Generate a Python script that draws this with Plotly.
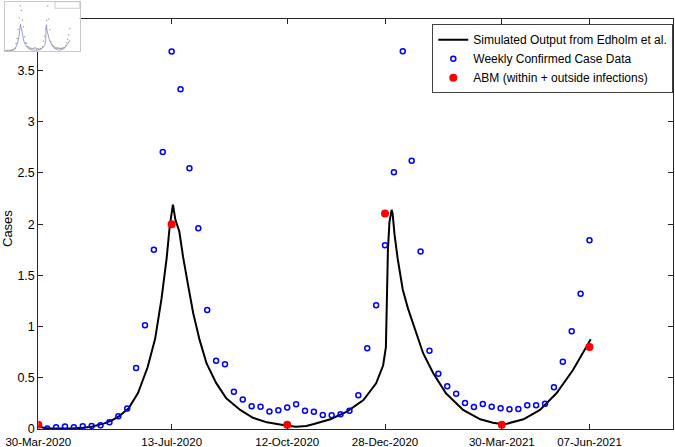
import pandas as pd
import plotly.graph_objects as go

START = pd.Timestamp("2020-03-30")

# Simulated output (black line): day offset from 30-Mar-2020, cases
sim_days = [0, 4, 8, 15, 26, 35, 42, 52, 58, 63, 71, 78.5, 86, 92, 97, 101, 103.5, 106,
            108, 111, 114, 118, 122, 127, 132.5, 140, 148, 159, 169, 180, 190, 196, 203,
            211, 217, 230, 243, 256, 266, 271.5, 273.7, 275.3, 276.5, 277.5, 278.2, 279,
            280.5, 283, 287, 291, 295, 303, 311, 321, 334.5, 348, 358, 365, 369, 382,
            395, 408, 421, 429, 435]
sim_vals = [0.03, 0.012, 0.005, 0.004, 0.006, 0.012, 0.022, 0.055, 0.085, 0.12, 0.2, 0.35,
            0.6, 0.88, 1.27, 1.66, 1.98, 2.19, 2.04, 1.93, 1.68, 1.40, 1.13, 0.87, 0.64,
            0.45, 0.30, 0.186, 0.11, 0.065, 0.042, 0.032, 0.023, 0.03, 0.049, 0.095, 0.17,
            0.283, 0.446, 0.62, 0.80, 1.75, 2.02, 2.12, 2.14, 2.10, 1.90, 1.66, 1.36, 1.18,
            1.03, 0.74, 0.544, 0.349, 0.186, 0.095, 0.062, 0.05, 0.052, 0.095, 0.186,
            0.349, 0.576, 0.74, 0.876]

# Weekly confirmed case data (first week 06-Apr-2020)
weekly_start = "2020-04-06"
weekly_vals = [0.005, 0.016, 0.024, 0.016, 0.028, 0.03, 0.036, 0.066, 0.124, 0.2,
               0.596, 1.012, 1.749, 2.705, 3.685, 3.317, 2.546, 1.961, 1.161, 0.667,
               0.631, 0.364, 0.289, 0.221, 0.218, 0.172, 0.182, 0.21, 0.242, 0.179,
               0.168, 0.137, 0.134, 0.143, 0.179, 0.329, 0.788, 1.208, 1.794, 2.507,
               3.688, 2.62, 1.732, 0.765, 0.54, 0.417, 0.345, 0.254, 0.215, 0.244,
               0.218, 0.202, 0.192, 0.195, 0.231, 0.231, 0.247, 0.407, 0.657, 0.954,
               1.321, 1.843]

# ABM (within + outside infections)
abm_dates = ["2020-03-30", "2020-07-13", "2020-10-12", "2020-12-28", "2021-03-30", "2021-06-07"]
abm_vals = [0.042, 2.0, 0.042, 2.103, 0.042, 0.80]

# Axis ticks
x_tickvals = ["2020-03-30", "2020-07-13", "2020-10-12", "2020-12-28", "2021-03-30", "2021-06-07"]
x_ticktext = ["30-Mar-2020", "13-Jul-2020", "12-Oct-2020", "28-Dec-2020", "30-Mar-2021", "07-Jun-2021"]
y_tickvals = [0, 0.5, 1, 1.5, 2, 2.5, 3, 3.5]
y_ticktext = ["0", "0.5", "1", "1.5", "2", "2.5", "3", "3.5"]
x_range = ["2020-03-30", "2021-08-12"]
y_range = [0, 4]

sim_x = [START + pd.Timedelta(days=d) for d in sim_days]
weekly_x = pd.date_range(weekly_start, periods=len(weekly_vals), freq="7D")

FONT = "Liberation Sans, Arial, Helvetica, sans-serif"
W, H = 675, 447

fig = go.Figure()
fig.add_trace(go.Scatter(x=sim_x, y=sim_vals, mode="lines",
                         line=dict(color="black", width=2),
                         name="Simulated Output from Edholm et al."))
fig.add_trace(go.Scatter(x=weekly_x, y=weekly_vals, mode="markers",
                         marker=dict(symbol="circle-open", size=5, color="#0000ff",
                                     line=dict(width=1.5, color="#0000ff")),
                         name="Weekly Confirmed Case Data"))
fig.add_trace(go.Scatter(x=abm_dates, y=abm_vals, mode="markers",
                         marker=dict(symbol="circle", size=8, color="#ff0000"),
                         name="ABM (within + outside infections)"))

# Thumbnail copy in the top-left corner
fig.add_trace(go.Scatter(x=sim_x, y=sim_vals, mode="lines", xaxis="x2", yaxis="y2",
                         line=dict(color="#7f86c8", width=0.8), showlegend=False,
                         hoverinfo="skip"))
fig.add_trace(go.Scatter(x=weekly_x, y=weekly_vals, mode="markers", xaxis="x2", yaxis="y2",
                         marker=dict(size=1.5, color="#a0a0a0"), showlegend=False,
                         hoverinfo="skip"))

axis_common = dict(showline=True, linecolor="#262626", linewidth=1, mirror="ticks",
                   ticks="inside", ticklen=5, tickcolor="#262626", showgrid=False,
                   zeroline=False, automargin=False)

fig.update_layout(
    template="none",
    width=W, height=H, autosize=False,
    margin=dict(l=0, r=0, t=0, b=0, pad=0),
    paper_bgcolor="white", plot_bgcolor="white",
    font=dict(family=FONT, color="black"),
    xaxis=dict(domain=[38.3 / W, 673.3 / W], type="date", range=x_range,
               tickvals=x_tickvals, ticktext=x_ticktext, ticklabelstandoff=2,
               tickfont=dict(size=11.5, family=FONT, color="black"), **axis_common),
    yaxis=dict(domain=[1 - 429 / H, 1 - 19.3 / H], range=y_range,
               tickvals=y_tickvals, ticktext=y_ticktext,
               tickfont=dict(size=12.5, family=FONT, color="black"), **axis_common),
    xaxis2=dict(domain=[4.5 / W, 79.8 / W], anchor="y2", type="date", range=x_range,
                showline=True, linecolor="#c8c8c8", linewidth=0.6, mirror=True,
                showticklabels=False, ticks="", showgrid=False, zeroline=False,
                automargin=False),
    yaxis2=dict(domain=[1 - 50.8 / H, 1 - 2.3 / H], anchor="x2", range=y_range,
                showline=True, linecolor="#c8c8c8", linewidth=0.6, mirror=True,
                showticklabels=False, ticks="", showgrid=False, zeroline=False,
                automargin=False),
    legend=dict(x=673.3 / W, xanchor="right", y=1 - 24.3 / H, yanchor="top",
                bgcolor="white", bordercolor="#404040", borderwidth=1,
                font=dict(size=12, family=FONT, color="black"),
                itemwidth=30, tracegroupgap=0),
    annotations=[dict(text="Cases", x=8 / W, y=1 - 229 / H, xref="paper", yref="paper",
                      xanchor="center", yanchor="middle",
                      textangle=-90, showarrow=False,
                      font=dict(size=13, family=FONT, color="black"))],
    shapes=[dict(type="rect", xref="paper", yref="paper",
                 x0=55 / W, x1=79.8 / W, y0=1 - 8.3 / H, y1=1 - 1.7 / H,
                 line=dict(color="#b0b0b0", width=0.6), fillcolor="white")],
    showlegend=True,
)

fig.write_html("out.html", config={"displayModeBar": False},
               post_script="document.body.style.margin='0';document.body.style.padding='0';")
